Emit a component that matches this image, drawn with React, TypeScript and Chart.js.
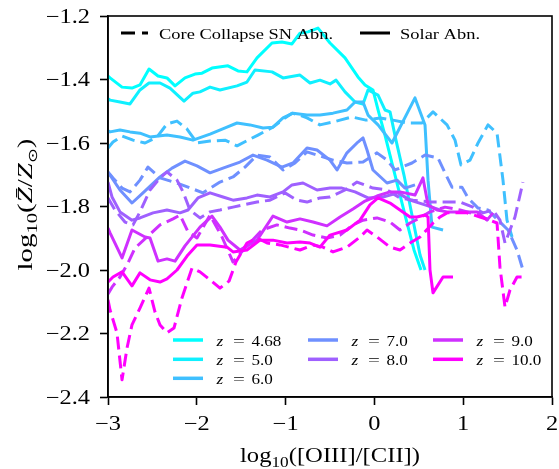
import React, { useEffect, useRef } from 'react';
import { Chart, registerables } from 'chart.js';

Chart.register(...registerables);

type Pt = [number, number];

// ---- data (x = log10([OIII]/[CII]), y = log10(Zbar/Zsun)) ----
const redshiftLabels = ['4.68', '5.0', '6.0', '7.0', '8.0', '9.0', '10.0'];
const redshiftColors = ['#00ffff', '#0ff0ff', '#3fc0ff', '#6f90ff', '#9f60ff', '#cf30ff', '#ff00ff'];
const xTicks = [-3, -2, -1, 0, 1, 2];
const yTicks = [-2.4, -2.2, -2.0, -1.8, -1.6, -1.4, -1.2];

const z468Solar: Pt[] = [[-3.0,-1.389],[-2.977,-1.395],[-2.842,-1.424],[-2.730,-1.427],[-2.640,-1.417],[-2.538,-1.367],[-2.437,-1.389],[-2.336,-1.395],[-2.245,-1.420],[-2.133,-1.395],[-2.020,-1.383],[-1.941,-1.380],[-1.829,-1.364],[-1.649,-1.357],[-1.536,-1.373],[-1.435,-1.376],[-1.322,-1.332],[-1.153,-1.285],[-1.041,-1.282],[-0.928,-1.288],[-0.838,-1.254],[-0.748,-1.250],[-0.635,-1.238],[-0.500,-1.285],[-0.331,-1.332],[-0.185,-1.392],[-0.106,-1.417],[-0.016,-1.433],[0.041,-1.496],[0.119,-1.575],[0.232,-1.701],[0.345,-1.827],[0.446,-1.937],[0.525,-2.000]];

const z50Solar: Pt[] = [[-3.0,-1.461],[-2.977,-1.465],[-2.865,-1.471],[-2.752,-1.477],[-2.640,-1.433],[-2.538,-1.411],[-2.414,-1.411],[-2.302,-1.427],[-2.144,-1.468],[-2.043,-1.443],[-1.964,-1.439],[-1.851,-1.424],[-1.739,-1.433],[-1.547,-1.420],[-1.435,-1.408],[-1.345,-1.370],[-1.153,-1.376],[-1.029,-1.395],[-0.838,-1.386],[-0.725,-1.411],[-0.613,-1.402],[-0.500,-1.414],[-0.432,-1.402],[-0.331,-1.439],[-0.218,-1.471],[-0.128,-1.477],[-0.072,-1.433],[0.041,-1.449],[0.119,-1.496],[0.176,-1.502],[0.243,-1.591],[0.333,-1.701],[0.423,-1.827],[0.514,-1.953],[0.570,-2.000]];

const z60Solar: Pt[] = [[-3.0,-1.562],[-2.977,-1.565],[-2.865,-1.559],[-2.752,-1.565],[-2.640,-1.569],[-2.527,-1.581],[-2.336,-1.575],[-2.189,-1.581],[-2.043,-1.591],[-1.851,-1.572],[-1.660,-1.550],[-1.547,-1.537],[-1.401,-1.543],[-1.254,-1.553],[-1.142,-1.550],[-1.029,-1.521],[-0.917,-1.506],[-0.759,-1.512],[-0.613,-1.512],[-0.466,-1.506],[-0.309,-1.496],[-0.218,-1.471],[-0.128,-1.471],[-0.072,-1.512],[0.041,-1.543],[0.198,-1.600],[0.457,-1.458],[0.570,-1.543],[0.604,-1.717],[0.649,-1.865],[0.773,-1.874]];

const z60CCSN: Pt[] = [[-3.0,-1.616],[-2.944,-1.597],[-2.842,-1.578],[-2.718,-1.591],[-2.583,-1.600],[-2.448,-1.581],[-2.336,-1.540],[-2.223,-1.531],[-2.110,-1.556],[-1.998,-1.600],[-1.851,-1.594],[-1.682,-1.591],[-1.547,-1.609],[-1.423,-1.591],[-1.311,-1.575],[-1.142,-1.550],[-1.007,-1.521],[-0.928,-1.506],[-0.838,-1.512],[-0.759,-1.521],[-0.613,-1.543],[-0.466,-1.534],[-0.387,-1.528],[-0.252,-1.518],[-0.095,-1.528],[0.063,-1.521],[0.209,-1.528],[0.367,-1.537],[0.536,-1.537],[0.660,-1.502],[0.818,-1.543],[0.908,-1.591],[0.975,-1.669],[1.077,-1.654],[1.167,-1.600],[1.279,-1.543],[1.381,-1.569],[1.448,-1.717],[1.493,-1.843],[1.550,-1.896]];

const z70Solar: Pt[] = [[-3.0,-1.694],[-2.977,-1.701],[-2.865,-1.748],[-2.730,-1.789],[-2.606,-1.757],[-2.414,-1.707],[-2.279,-1.679],[-2.133,-1.657],[-1.998,-1.672],[-1.851,-1.694],[-1.705,-1.679],[-1.514,-1.660],[-1.367,-1.638],[-1.209,-1.654],[-1.041,-1.676],[-0.917,-1.663],[-0.759,-1.616],[-0.646,-1.622],[-0.500,-1.654],[-0.421,-1.685],[-0.309,-1.631],[-0.185,-1.597],[-0.128,-1.584],[-0.083,-1.622],[-0.016,-1.685],[0.142,-1.726],[0.254,-1.717],[0.345,-1.742],[0.457,-1.732]];

const z70CCSN: Pt[] = [[-3.0,-1.691],[-2.944,-1.710],[-2.842,-1.742],[-2.752,-1.754],[-2.640,-1.717],[-2.550,-1.676],[-2.414,-1.710],[-2.223,-1.726],[-2.099,-1.739],[-1.930,-1.757],[-1.739,-1.723],[-1.592,-1.707],[-1.457,-1.676],[-1.322,-1.638],[-1.176,-1.644],[-1.029,-1.685],[-0.894,-1.663],[-0.759,-1.628],[-0.613,-1.641],[-0.466,-1.654],[-0.309,-1.663],[-0.128,-1.660],[0.029,-1.631],[0.142,-1.654],[0.232,-1.685],[0.423,-1.663],[0.570,-1.638],[0.716,-1.647],[0.795,-1.694],[0.874,-1.739],[0.986,-1.739],[1.054,-1.773],[1.167,-1.805],[1.279,-1.811],[1.392,-1.843],[1.505,-1.874],[1.606,-1.937],[1.673,-2.000]];

const z80Solar: Pt[] = [[-3.0,-1.723],[-2.955,-1.770],[-2.865,-1.817],[-2.730,-1.843],[-2.640,-1.836],[-2.493,-1.820],[-2.336,-1.811],[-2.189,-1.820],[-2.099,-1.811],[-1.987,-1.773],[-1.851,-1.757],[-1.705,-1.770],[-1.592,-1.780],[-1.435,-1.773],[-1.322,-1.764],[-1.176,-1.770],[-1.029,-1.754],[-0.928,-1.732],[-0.804,-1.726],[-0.646,-1.748],[-0.500,-1.742],[-0.365,-1.742],[-0.218,-1.754],[-0.072,-1.773],[0.097,-1.770],[0.266,-1.757],[0.401,-1.780],[0.570,-1.795],[0.739,-1.811]];

const z80CCSN: Pt[] = [[-3.0,-1.773],[-2.921,-1.811],[-2.809,-1.849],[-2.718,-1.858],[-2.640,-1.817],[-2.527,-1.748],[-2.414,-1.710],[-2.336,-1.691],[-2.223,-1.717],[-2.155,-1.754],[-2.077,-1.811],[-1.964,-1.836],[-1.851,-1.817],[-1.739,-1.811],[-1.592,-1.802],[-1.480,-1.795],[-1.322,-1.786],[-1.176,-1.780],[-1.007,-1.757],[-0.872,-1.780],[-0.759,-1.786],[-0.613,-1.773],[-0.500,-1.770],[-0.331,-1.748],[-0.196,-1.723],[-0.016,-1.742],[0.142,-1.748],[0.288,-1.773],[0.435,-1.780],[0.626,-1.786],[0.818,-1.786],[0.964,-1.786],[1.110,-1.802],[1.223,-1.820],[1.336,-1.811],[1.414,-1.843],[1.471,-1.915],[1.583,-1.833],[1.673,-1.723]];

const z90Solar: Pt[] = [[-3.0,-1.868],[-2.977,-1.883],[-2.842,-1.962],[-2.730,-1.874],[-2.583,-1.896],[-2.527,-1.899],[-2.437,-1.972],[-2.336,-1.965],[-2.245,-1.972],[-2.133,-1.924],[-1.964,-1.865],[-1.829,-1.830],[-1.739,-1.865],[-1.649,-1.906],[-1.514,-1.937],[-1.322,-1.906],[-1.142,-1.830],[-0.984,-1.849],[-0.838,-1.839],[-0.691,-1.849],[-0.534,-1.861],[-0.387,-1.833],[-0.241,-1.808],[-0.106,-1.783],[0.029,-1.767],[0.176,-1.754],[0.288,-1.754],[0.457,-1.764],[0.547,-1.710],[0.604,-1.795],[0.705,-1.811],[0.818,-1.817],[0.964,-1.817],[1.156,-1.817],[1.268,-1.843],[1.336,-1.820]];

const z90CCSN: Pt[] = [[-3.0,-2.076],[-2.955,-2.054],[-2.865,-2.022],[-2.775,-1.978],[-2.696,-1.931],[-2.550,-1.893],[-2.414,-1.858],[-2.268,-1.839],[-2.189,-1.827],[-2.099,-1.880],[-1.998,-1.899],[-1.851,-1.827],[-1.716,-1.896],[-1.592,-1.975],[-1.457,-1.931],[-1.266,-1.874],[-1.097,-1.858],[-0.950,-1.868],[-0.838,-1.874],[-0.691,-1.890],[-0.534,-1.899],[-0.387,-1.890],[-0.241,-1.858],[-0.128,-1.843],[0.029,-1.836],[0.176,-1.849],[0.288,-1.874],[0.401,-1.852],[0.514,-1.836],[0.626,-1.817],[0.795,-1.802],[0.964,-1.811],[1.133,-1.824],[1.302,-1.843]];

const z100Solar: Pt[] = [[-3.0,-2.038],[-2.944,-2.022],[-2.842,-2.006],[-2.730,-2.050],[-2.640,-2.009],[-2.527,-2.031],[-2.414,-2.038],[-2.336,-2.028],[-2.223,-2.000],[-2.110,-1.956],[-1.998,-1.921],[-1.851,-1.921],[-1.660,-1.928],[-1.592,-1.943],[-1.435,-1.937],[-1.288,-1.906],[-1.142,-1.906],[-0.984,-1.915],[-0.838,-1.912],[-0.725,-1.915],[-0.613,-1.928],[-0.500,-1.890],[-0.309,-1.874],[-0.162,-1.843],[-0.050,-1.795],[0.041,-1.773],[0.176,-1.789],[0.288,-1.811],[0.401,-1.833],[0.480,-1.833],[0.570,-1.827],[0.604,-1.833],[0.626,-2.000],[0.660,-2.072],[0.773,-2.022],[0.885,-2.022]];

const z100CCSN: Pt[] = [[-3.0,-2.094],[-2.977,-2.126],[-2.899,-2.198],[-2.842,-2.346],[-2.786,-2.246],[-2.730,-2.173],[-2.640,-2.120],[-2.538,-2.057],[-2.471,-2.132],[-2.414,-2.173],[-2.336,-2.198],[-2.257,-2.183],[-2.167,-2.088],[-2.054,-1.994],[-1.964,-2.006],[-1.851,-2.031],[-1.739,-2.057],[-1.637,-2.035],[-1.559,-1.975],[-1.435,-1.915],[-1.322,-1.899],[-1.209,-1.915],[-1.063,-1.921],[-0.838,-1.937],[-0.691,-1.921],[-0.579,-1.928],[-0.466,-1.943],[-0.309,-1.928],[-0.162,-1.896],[-0.083,-1.874],[0.029,-1.896],[0.176,-1.928],[0.288,-1.937],[0.401,-1.915],[0.514,-1.896],[0.660,-1.852],[0.739,-1.833],[0.818,-1.820],[1.043,-1.820],[1.189,-1.833],[1.302,-1.843],[1.381,-1.852],[1.414,-1.991],[1.471,-2.117],[1.527,-2.063],[1.606,-2.022],[1.662,-2.022]];

const seriesList: { zi: number; data: Pt[]; dashed: boolean }[] = [
  { zi: 0, data: z468Solar, dashed: false },
  { zi: 1, data: z50Solar, dashed: false },
  { zi: 2, data: z60CCSN, dashed: true },
  { zi: 2, data: z60Solar, dashed: false },
  { zi: 3, data: z70CCSN, dashed: true },
  { zi: 3, data: z70Solar, dashed: false },
  { zi: 4, data: z80CCSN, dashed: true },
  { zi: 4, data: z80Solar, dashed: false },
  { zi: 5, data: z90CCSN, dashed: true },
  { zi: 5, data: z90Solar, dashed: false },
  { zi: 6, data: z100CCSN, dashed: true },
  { zi: 6, data: z100Solar, dashed: false },
];

const SERIF = '"Liberation Serif", "DejaVu Serif", serif';
const DASH = [13, 6];
const SX = 1.22; // horizontal text stretch
const minus = (s: string) => s.replace('-', '\u2212');

type Piece = { t: string; font: string; dy?: number };

function piecesWidth(ctx: CanvasRenderingContext2D, pieces: Piece[]) {
  let w = 0;
  for (const p of pieces) {
    ctx.font = p.font;
    w += ctx.measureText(p.t).width;
  }
  return w;
}

function drawPieces(ctx: CanvasRenderingContext2D, pieces: Piece[], x: number) {
  let cx = x;
  for (const p of pieces) {
    ctx.font = p.font;
    ctx.fillText(p.t, cx, p.dy || 0);
    cx += ctx.measureText(p.t).width;
  }
}

function stretched(ctx: CanvasRenderingContext2D, t: string, x: number, y: number, font: string, align: CanvasTextAlign, sx: number) {
  ctx.save();
  ctx.font = font;
  ctx.textAlign = align;
  ctx.translate(x, y);
  ctx.scale(sx, 1);
  ctx.fillText(t, 0, 0);
  ctx.restore();
}

const decorPlugin = {
  id: 'decor',
  afterDraw(chart: any) {
    const ctx: CanvasRenderingContext2D = chart.ctx;
    const ca = chart.chartArea;
    const xs = chart.scales.x;
    const ys = chart.scales.y;
    ctx.save();
    // frame
    ctx.strokeStyle = '#000';
    ctx.lineWidth = 1.6;
    ctx.setLineDash([]);
    ctx.strokeRect(ca.left, ca.top, ca.right - ca.left, ca.bottom - ca.top);

    ctx.fillStyle = '#000';
    ctx.textBaseline = 'alphabetic';
    ctx.textAlign = 'left';

    // tick labels
    const tickFont = `20px ${SERIF}`;
    yTicks.forEach((v) => {
      stretched(ctx, minus(v.toFixed(1)), ca.left - 18, ys.getPixelForValue(v) + 6.8, tickFont, 'right', SX);
    });
    xTicks.forEach((v) => {
      stretched(ctx, minus(String(v)), xs.getPixelForValue(v), ca.bottom + 33, tickFont, 'center', SX);
    });

    // top legend
    const ly = ca.top + 17;
    ctx.lineWidth = 3;
    ctx.strokeStyle = '#000';
    ctx.lineCap = 'butt';
    ctx.setLineDash([14, 7]);
    ctx.beginPath();
    ctx.moveTo(ca.left + 13, ly);
    ctx.lineTo(ca.left + 40, ly);
    ctx.stroke();
    ctx.setLineDash([]);
    ctx.beginPath();
    ctx.moveTo(ca.left + 252, ly);
    ctx.lineTo(ca.left + 282, ly);
    ctx.stroke();
    const fitText = (t: string, x: number, y: number, font: string, w: number) => {
      ctx.font = font;
      const m = ctx.measureText(t).width;
      ctx.save();
      ctx.translate(x, y);
      ctx.scale(w / m, 1);
      ctx.fillText(t, 0, 0);
      ctx.restore();
    };
    fitText('Core Collapse SN Abn.', ca.left + 51, ly + 5.5, `15.5px ${SERIF}`, 174);
    fitText('Solar Abn.', ca.left + 292, ly + 5.5, `15.5px ${SERIF}`, 80);

    // bottom legend (3 columns, column-major)
    const colX = [ca.left + 65, ca.left + 200, ca.left + 325];
    const rowY = [ca.top + 324, ca.top + 343.3, ca.top + 362.3];
    const layout = [[0, 0], [0, 1], [0, 2], [1, 0], [1, 1], [2, 0], [2, 1]];
    redshiftLabels.forEach((lab, i) => {
      const [c, r] = layout[i];
      const x0 = colX[c];
      const y0 = rowY[r];
      ctx.strokeStyle = redshiftColors[i];
      ctx.lineWidth = 3.5;
      ctx.setLineDash([]);
      ctx.beginPath();
      ctx.moveTo(x0, y0);
      ctx.lineTo(x0 + 30, y0);
      ctx.stroke();
      const tx = x0 + 43.5;
      ctx.fillStyle = '#000';
      stretched(ctx, 'z', tx, y0 + 5.5, `italic 14px ${SERIF}`, 'left', SX);
      stretched(ctx, '=', tx + 22.5, y0 + 5.5, `14px ${SERIF}`, 'center', 1.5);
      stretched(ctx, lab, tx + 35, y0 + 6, `14px ${SERIF}`, 'left', SX);
    });

    // x-axis title
    const xt: Piece[] = [
      { t: 'log', font: `20px ${SERIF}` },
      { t: '10', font: `14px ${SERIF}`, dy: 5 },
      { t: '([OIII]/[CII])', font: `20px ${SERIF}` },
    ];
    {
      const w = piecesWidth(ctx, xt);
      const target = 180;
      ctx.save();
      ctx.translate((ca.left + ca.right) / 2, ca.bottom + 65);
      ctx.scale(target / w, 1);
      drawPieces(ctx, xt, -w / 2);
      ctx.restore();
    }

    // y-axis title
    const yt: Piece[] = [
      { t: 'log', font: `21px ${SERIF}` },
      { t: '10', font: `15px ${SERIF}`, dy: 5 },
      { t: '(', font: `21px ${SERIF}` },
      { t: 'Z\u0304', font: `italic 21px ${SERIF}` },
      { t: '/', font: `21px ${SERIF}` },
      { t: 'Z', font: `italic 21px ${SERIF}` },
      { t: '\u2299', font: `13px "DejaVu Sans", sans-serif`, dy: 5 },
      { t: ')', font: `21px ${SERIF}` },
    ];
    {
      const w = piecesWidth(ctx, yt);
      const target = 132;
      ctx.save();
      ctx.translate(32, (ca.top + ca.bottom) / 2 - 2);
      ctx.rotate(-Math.PI / 2);
      ctx.scale(target / w, 1);
      drawPieces(ctx, yt, -w / 2);
      ctx.restore();
    }
    ctx.restore();
  },
};

export default function App() {
  const ref = useRef<HTMLCanvasElement | null>(null);
  useEffect(() => {
    if (!ref.current) return;
    const datasets = seriesList.map((s, i) => ({
      label: `z=${redshiftLabels[s.zi]}${s.dashed ? ' CCSN' : ' Solar'}`,
      data: s.data.map(([x, y]) => ({ x, y })),
      borderColor: redshiftColors[s.zi],
      backgroundColor: redshiftColors[s.zi],
      borderWidth: 3,
      borderDash: s.dashed ? DASH : [],
      borderCapStyle: 'butt' as const,
      borderJoinStyle: 'round' as const,
      pointRadius: 0,
      pointHoverRadius: 0,
      fill: false,
      tension: 0,
      order: -i,
    }));
    const chart = new Chart(ref.current, {
      type: 'line',
      data: { datasets },
      options: {
        responsive: false,
        animation: false,
        events: [],
        layout: { padding: { left: 0, right: 7, top: 16, bottom: 0 } },
        plugins: { legend: { display: false }, tooltip: { enabled: false } },
        scales: {
          x: {
            type: 'linear',
            min: xTicks[0],
            max: xTicks[xTicks.length - 1],
            afterBuildTicks: (s: any) => { s.ticks = xTicks.map((v) => ({ value: v })); },
            afterFit: (s: any) => { s.height = 72; },
            ticks: { display: false },
            grid: { drawOnChartArea: false, drawTicks: true, tickLength: 8, tickWidth: 1.6, tickColor: '#000', color: '#000' },
            border: { display: true, color: '#000', width: 1.6 },
          },
          y: {
            type: 'linear',
            min: yTicks[0],
            max: yTicks[yTicks.length - 1],
            afterBuildTicks: (s: any) => { s.ticks = yTicks.map((v) => ({ value: v })); },
            afterFit: (s: any) => { s.width = 108; },
            ticks: { display: false },
            grid: { drawOnChartArea: false, drawTicks: true, tickLength: 8, tickWidth: 1.6, tickColor: '#000', color: '#000' },
            border: { display: true, color: '#000', width: 1.6 },
          },
        },
      },
      plugins: [decorPlugin],
    } as any);
    return () => chart.destroy();
  }, []);
  return (
    <div style={{ position: 'fixed', left: 0, top: 0, width: 559, height: 469, background: '#fff' }}>
      <canvas ref={ref} width={559} height={469} style={{ display: 'block' }} />
    </div>
  );
}
